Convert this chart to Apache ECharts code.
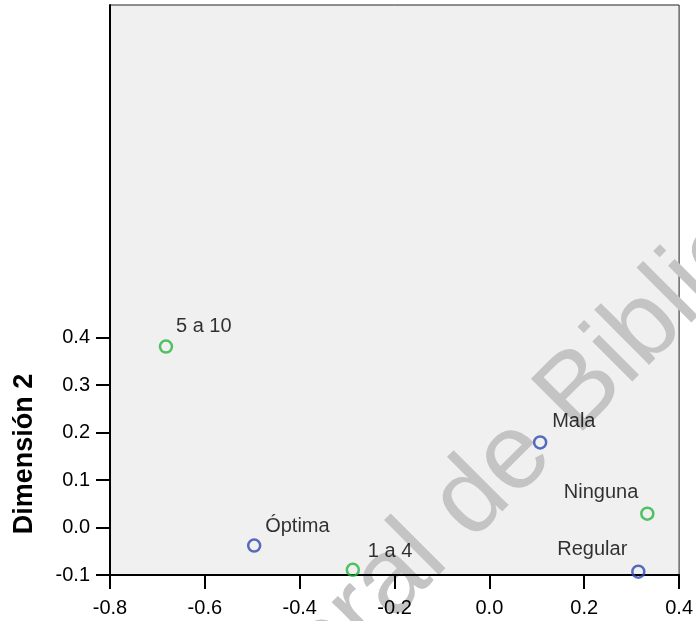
<!DOCTYPE html>
<html>
<head>
<meta charset="utf-8">
<script src="https://cdn.jsdelivr.net/npm/echarts@6/dist/echarts.min.js"></script>
<style>html,body{margin:0;padding:0;background:#fff}#c{width:696px;height:621px}</style>
</head>
<body>
<div id="c"></div>
<script>
// ---- data ----
const rowNames = ['Óptima', 'Mala', 'Regular'];
const rowDim1 = [-0.496, 0.107, 0.314];
const rowDim2 = [-0.038, 0.179, -0.093];

const colNames = ['5 a 10', '1 a 4', 'Ninguna'];
const colDim1 = [-0.682, -0.288, 0.333];
const colDim2 = [0.381, -0.089, 0.029];

const xTicks = [-0.8, -0.6, -0.4, -0.2, 0.0, 0.2, 0.4];
const yTicks = [-0.1, 0.0, 0.1, 0.2, 0.3, 0.4];
const yTitle = 'Dimensión 2';
const watermark = 'Dirección General de Bibliotecas';

// ---- label placement (style only) ----
const labelPlace = {
  'Óptima': {align: 'left', offset: [11, -19]},
  'Mala': {align: 'left', offset: [12, -21]},
  'Regular': {align: 'right', offset: [-11, -22]},
  '5 a 10': {align: 'left', offset: [10, -20]},
  '1 a 4': {align: 'left', offset: [15, -18]},
  'Ninguna': {align: 'right', offset: [-9, -21]}
};

const FONT = '"Liberation Sans", Arial, Helvetica, sans-serif';

function build(names, xs, ys) {
  return names.map((n, i) => ({
    name: n,
    value: [xs[i], ys[i]],
    label: {
      show: true,
      formatter: n,
      color: '#000',
      fontSize: 20,
      fontFamily: FONT,
      position: 'inside',
      align: labelPlace[n].align,
      verticalAlign: 'middle',
      offset: labelPlace[n].offset
    }
  }));
}

const chart = echarts.init(document.getElementById('c'), null, {renderer: 'canvas'});
const option = {
  animation: false,
  backgroundColor: '#ffffff',
  textStyle: {fontFamily: FONT},
  grid: {
    left: 110, top: 5, right: 15, bottom: 46,
    show: true, backgroundColor: '#f0f0f0',
    borderColor: '#222', borderWidth: 1, z: 0
  },
  xAxis: {
    type: 'value', min: -0.8, max: 0.4, interval: 0.2, z: 3,
    axisLine: {show: true, onZero: false, lineStyle: {color: '#000', width: 2}},
    axisTick: {show: true, length: 14, lineStyle: {color: '#000', width: 2}, customValues: xTicks},
    axisLabel: {
      customValues: xTicks,
      color: '#000', fontSize: 20, fontFamily: FONT, margin: 23,
      formatter: v => v.toFixed(1)
    },
    splitLine: {show: false}
  },
  yAxis: {
    type: 'value', min: -0.1, max: 1.1, interval: 0.1, z: 3,
    axisLine: {show: true, onZero: false, lineStyle: {color: '#000', width: 2}},
    axisTick: {show: true, length: 14, lineStyle: {color: '#000', width: 2}, customValues: yTicks},
    axisLabel: {
      customValues: yTicks,
      color: '#000', fontSize: 20, fontFamily: FONT, margin: 20,
      formatter: v => v.toFixed(1)
    },
    splitLine: {show: false}
  },
  graphic: [
    {
      type: 'text', x: 373, y: 599, rotation: Math.PI / 4, z: 1, silent: true,
      style: {text: watermark, font: '107px ' + FONT, fill: '#c4c4c4', align: 'center', verticalAlign: 'middle'}
    },
    {
      type: 'text', x: 25, y: 454, rotation: Math.PI / 2, z: 5,
      style: {text: yTitle, font: 'bold 27px ' + FONT, fill: '#000', align: 'center', verticalAlign: 'middle'}
    }
  ],
  series: [
    {
      type: 'scatter', name: 'Fila', z: 4,
      symbol: 'circle', symbolSize: 12,
      itemStyle: {color: 'rgba(0,0,0,0)', borderColor: '#3048b0', borderWidth: 2.5},
      data: build(rowNames, rowDim1, rowDim2)
    },
    {
      type: 'scatter', name: 'Columna', z: 4,
      symbol: 'circle', symbolSize: 12,
      itemStyle: {color: 'rgba(0,0,0,0)', borderColor: '#26b53f', borderWidth: 2.5},
      data: build(colNames, colDim1, colDim2)
    }
  ]
};
chart.setOption(option);
</script>
</body>
</html>
